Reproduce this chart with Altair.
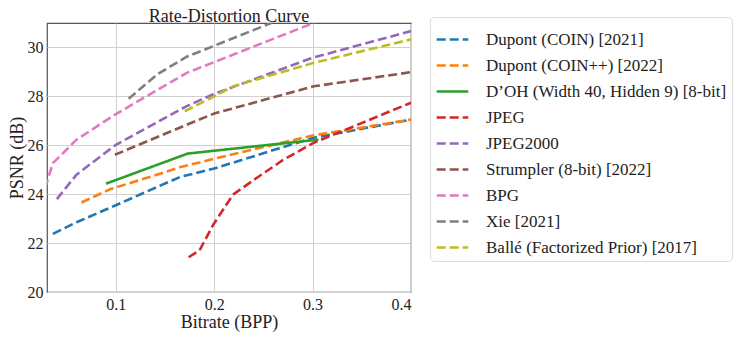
import altair as alt
import pandas as pd

series = [
    "Dupont (COIN) [2021]",
    "Dupont (COIN++) [2022]",
    "D’OH (Width 40, Hidden 9) [8-bit]",
    "JPEG",
    "JPEG2000",
    "Strumpler (8-bit) [2022]",
    "BPG",
    "Xie [2021]",
    "Ballé (Factorized Prior) [2017]",
]
colors = ["#1f77b4", "#ff7f0e", "#2ca02c", "#d62728", "#9467bd",
          "#8c564b", "#e377c2", "#7f7f7f", "#bcbd22"]

coin_bpp = [0.036, 0.06, 0.1, 0.165, 0.2, 0.3, 0.4]
coin_psnr = [22.38, 22.85, 23.55, 24.7, 25.05, 26.3, 27.05]

coinpp_bpp = [0.065, 0.094, 0.138, 0.165, 0.2, 0.3, 0.4]
coinpp_psnr = [23.66, 24.2, 24.75, 25.1, 25.45, 26.4, 27.05]

doh_bpp = [0.09, 0.173, 0.24, 0.306]
doh_psnr = [24.43, 25.66, 25.95, 26.23]

jpeg_bpp = [0.174, 0.185, 0.199, 0.219, 0.243, 0.27, 0.301, 0.4]
jpeg_psnr = [21.42, 21.7, 22.75, 23.98, 24.66, 25.4, 26.1, 27.74]

j2k_bpp = [0.04, 0.06, 0.1, 0.172, 0.2, 0.3, 0.4]
j2k_psnr = [23.8, 24.8, 26.02, 27.6, 28.1, 29.58, 30.67]

strum_bpp = [0.099, 0.172, 0.2, 0.301, 0.4]
strum_psnr = [25.61, 26.84, 27.3, 28.41, 28.99]

bpg_bpp = [0.028, 0.036, 0.06, 0.099, 0.172, 0.301]
bpg_psnr = [24.25, 25.27, 26.23, 27.25, 28.96, 31.0]

xie_bpp = [0.113, 0.142, 0.172, 0.258]
xie_psnr = [27.9, 28.9, 29.62, 31.0]

balle_bpp = [0.17, 0.2, 0.219, 0.301, 0.4]
balle_psnr = [27.39, 28.0, 28.41, 29.37, 30.33]

all_bpp = [coin_bpp, coinpp_bpp, doh_bpp, jpeg_bpp, j2k_bpp,
           strum_bpp, bpg_bpp, xie_bpp, balle_bpp]
all_psnr = [coin_psnr, coinpp_psnr, doh_psnr, jpeg_psnr, j2k_psnr,
            strum_psnr, bpg_psnr, xie_psnr, balle_psnr]

rows = []
for name, xs, ys in zip(series, all_bpp, all_psnr):
    for i, (x, y) in enumerate(zip(xs, ys)):
        rows.append({"series": name, "bpp": x, "psnr": y, "order": i})
df = pd.DataFrame(rows)

dashes = [[9, 4] if s != series[2] else [1, 0] for s in series]

FONT = "Liberation Serif"

leg = alt.Legend(title=None, orient="none", legendX=383, legendY=-6)

chart = alt.Chart(df).mark_line(strokeWidth=2.6, clip=True).encode(
    x=alt.X("bpp:Q", title="Bitrate (BPP)",
            scale=alt.Scale(domain=[0.03, 0.4], nice=False, zero=False),
            axis=alt.Axis(values=[0.1, 0.2, 0.3, 0.4], format=".1f")),
    y=alt.Y("psnr:Q", title="PSNR (dB)",
            scale=alt.Scale(domain=[20, 31], nice=False, zero=False),
            axis=alt.Axis(values=[20, 22, 24, 26, 28, 30])),
    color=alt.Color("series:N", sort=series,
                    scale=alt.Scale(domain=series, range=colors),
                    legend=leg),
    strokeDash=alt.StrokeDash("series:N", sort=series,
                              scale=alt.Scale(domain=series, range=dashes),
                              legend=leg),
    order="order:Q",
).properties(
    width=364, height=269,
    title=alt.TitleParams("Rate-Distortion Curve", fontSize=18, font=FONT,
                          fontWeight="normal", color="#222", offset=0, dy=9),
    autosize=alt.AutoSizeParams(type="none"),
    padding={"left": 39, "top": 15, "right": 329, "bottom": 40},
).configure_view(
    stroke="#555", strokeWidth=1.2
).configure_axis(
    labelFont=FONT, titleFont=FONT, labelFontSize=16, titleFontSize=18,
    labelColor="#222", titleColor="#222", titleFontWeight="normal",
    grid=True, gridColor="#d0d0d0", gridWidth=1, domain=False,
    ticks=False, labelPadding=4,
).configure_axisX(titlePadding=1
).configure_axisY(titlePadding=1
).configure_legend(
    labelFont=FONT, labelFontSize=17, labelColor="#222", labelLimit=400,
    symbolType="stroke", symbolSize=1000, symbolStrokeWidth=2.6,
    strokeColor="#dddddd", cornerRadius=4, padding=5, rowPadding=0,
    labelOffset=16, fillColor="white",
)

chart.save("out.html", embed_options={"renderer": "svg", "actions": False})
